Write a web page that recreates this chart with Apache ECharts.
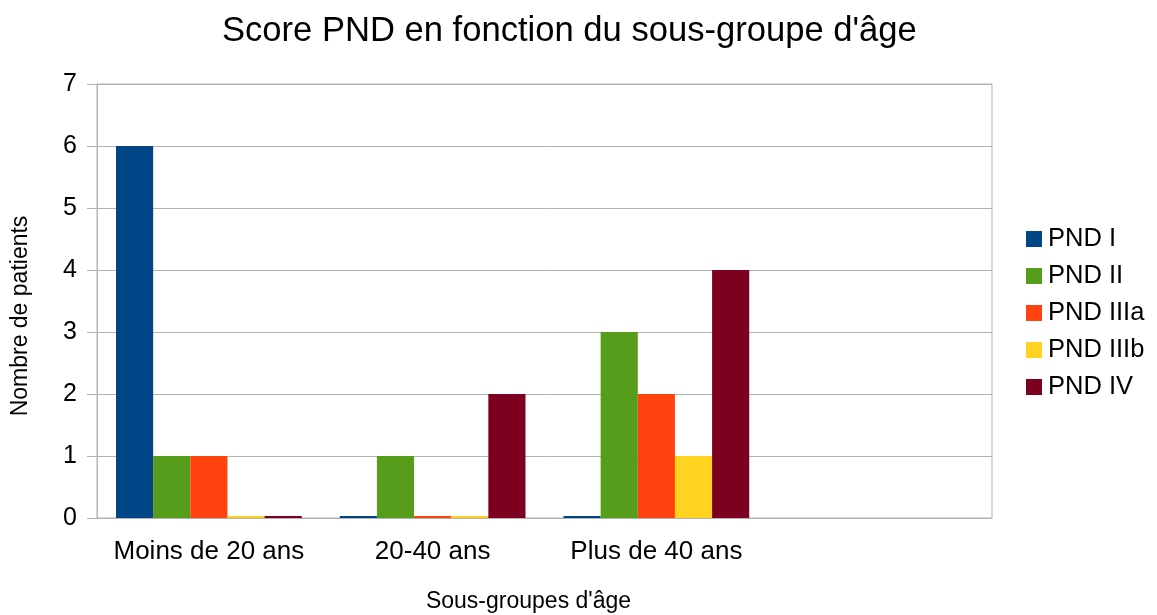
<!DOCTYPE html>
<html>
<head>
<meta charset="utf-8">
<script src="https://cdn.jsdelivr.net/npm/echarts@6/dist/echarts.min.js"></script>
<style>
  html, body { margin: 0; padding: 0; background: #fff; }
  #chart { width: 1157px; height: 615px; }
</style>
</head>
<body>
<div id="chart"></div>
<script>
// catégories (la 4e est vide dans l'original)
const categories = ["Moins de 20 ans", "20-40 ans", "Plus de 40 ans", ""];
const seriesNames = ["PND I", "PND II", "PND IIIa", "PND IIIb", "PND IV"];
const pndI = [6, 0, 0, "-"];
const pndII = [1, 1, 3, "-"];
const pndIIIa = [1, 0, 2, "-"];
const pndIIIb = [0, 0, 1, "-"];
const pndIV = [0, 2, 4, "-"];
const colors = ["#004586", "#579d1c", "#ff420e", "#ffd320", "#7e0021"];

const font = "'Liberation Sans', Arial, sans-serif";
const allData = [pndI, pndII, pndIIIa, pndIIIb, pndIV];

const chart = echarts.init(document.getElementById("chart"));
chart.setOption({
  animation: false,
  color: colors,
  textStyle: { fontFamily: font, color: "#000" },
  title: {
    text: "Score PND en fonction du sous-groupe d'âge",
    left: 217,
    top: 9,
    textStyle: { fontFamily: font, fontSize: 34.6, fontWeight: "normal", color: "#000" },
  },
  legend: {
    orient: "vertical",
    left: 1021,
    top: 221,
    itemWidth: 16,
    itemHeight: 16,
    itemGap: 11,
    icon: "rect",
    textStyle: { fontFamily: font, fontSize: 25.5, lineHeight: 26, color: "#000", padding: [0, 0, 0, 1] },
    data: seriesNames,
  },
  grid: {
    left: 97,
    right: 165,
    top: 84,
    bottom: 97,
    outerBoundsMode: "none",
    containLabel: false,
    show: true,
    borderColor: "#b3b3b3",
    borderWidth: 1,
  },
  xAxis: {
    type: "category",
    data: categories,
    name: "Sous-groupes d'âge",
    nameLocation: "middle",
    nameGap: 72,
    nameTextStyle: { fontFamily: font, fontSize: 23, color: "#000", padding: [0, 32, 0, 0] },
    axisLine: { lineStyle: { color: "#b3b3b3" } },
    axisTick: { length: 11, lineStyle: { color: "#b3b3b3" } },
    axisLabel: { fontFamily: font, fontSize: 26, color: "#000", margin: 21, interval: 0 },
  },
  yAxis: {
    type: "value",
    min: 0,
    max: 7,
    interval: 1,
    name: "Nombre de patients",
    nameLocation: "middle",
    nameGap: 65,
    nameTextStyle: { fontFamily: font, fontSize: 23, color: "#000", padding: [0, 30, 0, 0] },
    axisLine: { show: true, lineStyle: { color: "#b3b3b3" } },
    axisTick: { show: true, length: 10, lineStyle: { color: "#b3b3b3" } },
    axisLabel: { fontFamily: font, fontSize: 25, color: "#000", margin: 20 },
    splitLine: { lineStyle: { color: "#b3b3b3" } },
  },
  series: seriesNames.map(function (name, i) {
    return {
      name: name,
      type: "bar",
      data: allData[i],
      barGap: "0%",
      barCategoryGap: "17%",
      barMinHeight: 2,
    };
  }),
});
</script>
</body>
</html>
